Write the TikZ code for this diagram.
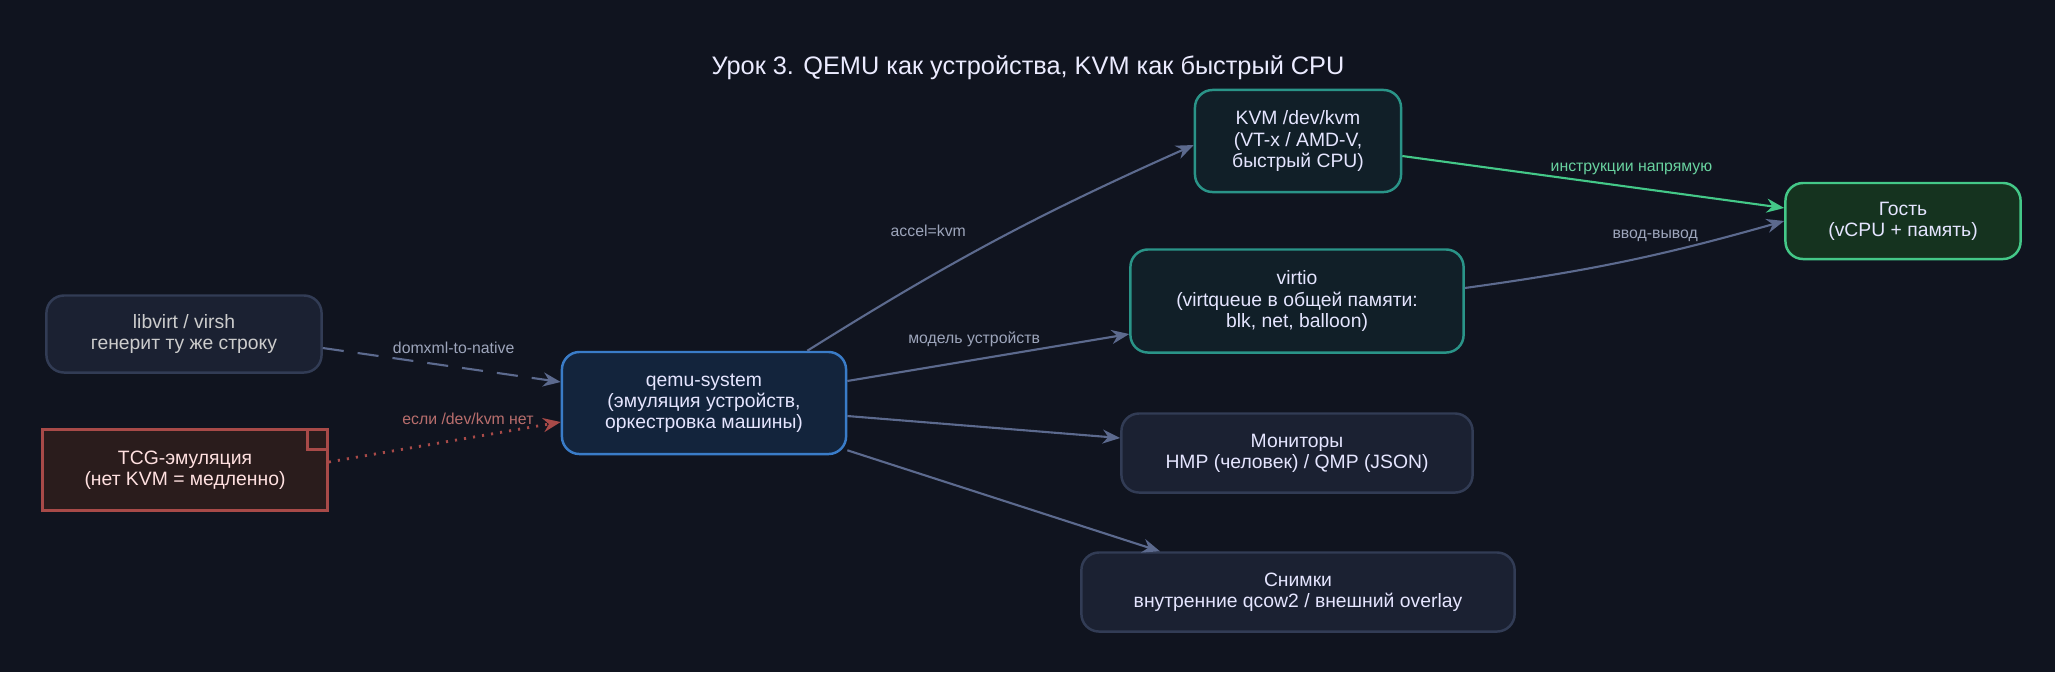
\documentclass[tikz,border=0pt]{standalone}
\usepackage{fontspec}
\setmainfont{Liberation Sans}
\usetikzlibrary{arrows.meta}
\definecolor{bgc}{HTML}{10141F}
\definecolor{edgec}{HTML}{5C6A8E}
\definecolor{greenc}{HTML}{44C888}
\definecolor{redc}{HTML}{A84A48}
\definecolor{grayfill}{HTML}{1B2132}
\definecolor{graydraw}{HTML}{323C55}
\definecolor{bluefill}{HTML}{13243C}
\definecolor{bluedraw}{HTML}{3A7CC8}
\definecolor{tealfill}{HTML}{111F28}
\definecolor{tealdraw}{HTML}{2A9488}
\definecolor{greenfill}{HTML}{15331F}
\definecolor{redfill}{HTML}{2A1C1C}

\begin{document}
\begin{tikzpicture}[x=0.01cm,y=-0.01cm,
    box/.style={rounded corners=5pt, draw, line width=0.7pt, align=center, text=white!90!blue,
      font=\fontsize{5.5}{6}\selectfont},
    lbl/.style={font=\fontsize{4.5}{5}\selectfont, text=edgec!60!white},
    edge/.style={draw=edgec, line width=0.6pt, -{Stealth[length=5pt,width=4pt]}},
    ]
  \fill[bgc] (0,0) rectangle (2055,672);
  \useasboundingbox (0,0) rectangle (2055,672);

  \node[font=\fontsize{7.2}{8}\selectfont, text=white!92!blue] (title) at (1028,68)
    {Урок 3. QEMU как устройства, KVM как быстрый CPU};

  \node[box, fill=grayfill, draw=graydraw, text=gray!40!white,
    minimum width=2.75cm, minimum height=0.77cm] (libvirt) at (184,334) {libvirt / virsh\\генерит ту же строку};
  \node[draw=redc, fill=redfill, line width=0.7pt, align=center, text=white!88!red,
    font=\fontsize{5.5}{6}\selectfont, minimum width=2.85cm, minimum height=0.81cm] (tcg) at (185,470)
    {TCG-эмуляция\\(нет KVM = медленно)};
  \draw[redc, line width=0.7pt] ([xshift=-6pt]tcg.north east) -- ++(0,-6pt) -- ++(6pt,0);
  \node[box, fill=bluefill, draw=bluedraw,
    minimum width=2.84cm, minimum height=1.02cm] (qemu) at (704,403)
    {qemu-system\\(эмуляция устройств,\\оркестровка машины)};
  \node[box, fill=tealfill, draw=tealdraw,
    minimum width=2.06cm, minimum height=1.02cm] (kvm) at (1298,141)
    {KVM /dev/kvm\\(VT-x / AMD-V,\\быстрый CPU)};
  \node[box, fill=tealfill, draw=tealdraw,
    minimum width=3.33cm, minimum height=1.03cm] (virtio) at (1297,301)
    {virtio\\(virtqueue в общей памяти:\\blk, net, balloon)};
  \node[box, fill=grayfill, draw=graydraw,
    minimum width=3.51cm, minimum height=0.79cm] (mon) at (1297,453)
    {Мониторы\\HMP (человек) / QMP (JSON)};
  \node[box, fill=grayfill, draw=graydraw,
    minimum width=4.33cm, minimum height=0.79cm] (snap) at (1298,592)
    {Снимки\\внутренние qcow2 / внешний overlay};
  \node[box, fill=greenfill, draw=greenc,
    minimum width=2.35cm, minimum height=0.76cm] (guest) at (1903,221)
    {Гость\\(vCPU + память)};

  \draw[edge, dash pattern=on 6pt off 4pt] ([yshift=-0.14cm]libvirt.east) -- node[lbl, above, pos=0.55] {domxml-to-native} ([yshift=0.21cm]qemu.west);
  \draw[edge, draw=redc, dotted, line width=0.8pt] ([yshift=0.08cm]tcg.east) -- node[lbl, text=redc!80!white, above, pos=0.6] {если /dev/kvm нет} ([yshift=-0.19cm]qemu.west);
  \draw[edge] ([xshift=-0.4cm]qemu.north east) to[bend left=4] node[lbl, above left, pos=0.45] {accel=kvm} ([yshift=-0.04cm]kvm.west);
  \draw[edge] ([yshift=0.22cm]qemu.east) -- node[lbl, above, pos=0.45] {модель устройств} ([yshift=-0.33cm]virtio.west);
  \draw[edge] ([yshift=-0.13cm]qemu.east) -- ([yshift=0.15cm]mon.west);
  \draw[edge] ([yshift=0.05cm]qemu.south east) -- ([xshift=-1.38cm]snap.north);
  \draw[edge, draw=greenc] ([yshift=-0.15cm]kvm.east) -- node[lbl, text=greenc!80!white, above, pos=0.6] {инструкции напрямую} ([yshift=0.13cm]guest.west);
  \draw[edge] ([yshift=0.13cm]virtio.east) to[bend right=4] node[lbl, above, pos=0.6] {ввод-вывод} ([yshift=0.29cm]guest.west |- 0,250);
\end{tikzpicture}
\end{document}
